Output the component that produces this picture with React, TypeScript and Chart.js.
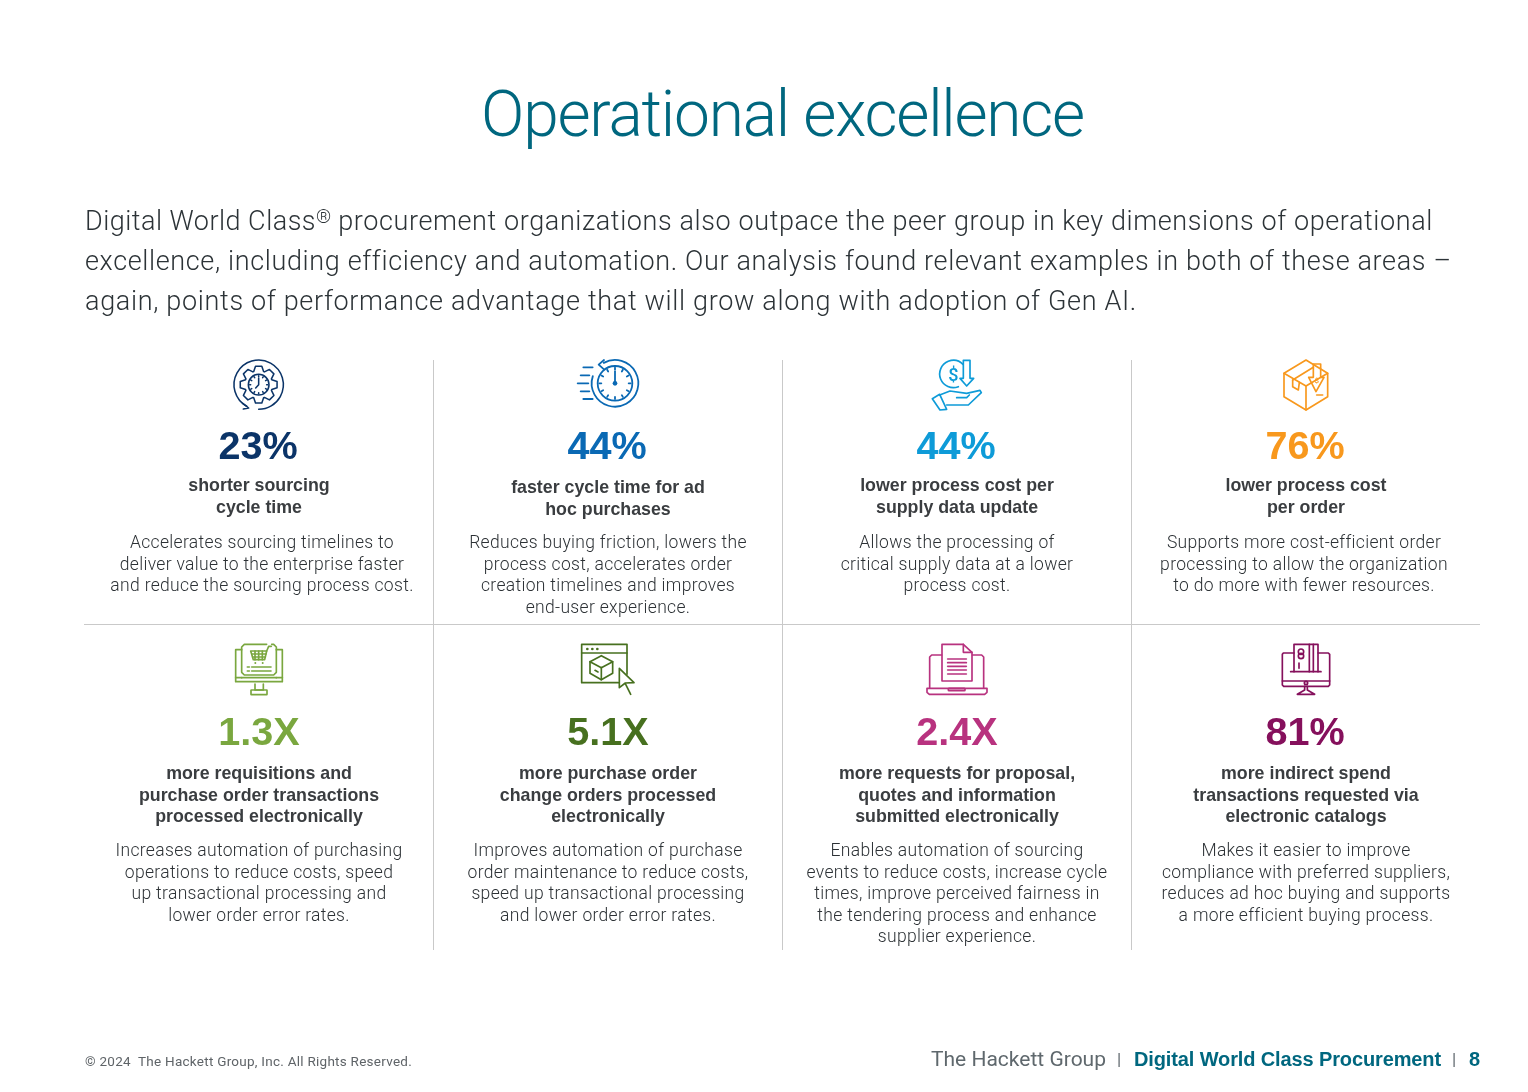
import React, { useEffect, useRef } from "react";
import { Chart, registerables } from "chart.js";

Chart.register(...registerables);

const pageTitle = "Operational excellence";
const introLines = [
  "Digital World Class® procurement organizations also outpace the peer group in key dimensions of operational",
  "excellence, including efficiency and automation. Our analysis found relevant examples in both of these areas –",
  "again, points of performance advantage that will grow along with adoption of Gen AI.",
];
const metricLabels = ["23%", "44%", "44%", "76%", "1.3X", "5.1X", "2.4X", "81%"];
const metricColors = ["#0b3468", "#0a69b4", "#0e9bd8", "#f8981d", "#7aa73f", "#47701f", "#b8327f", "#85105c"];
const headlines = [
  ["shorter sourcing", "cycle time"],
  ["faster cycle time for ad", "hoc purchases"],
  ["lower process cost per", "supply data update"],
  ["lower process cost", "per order"],
  ["more requisitions and", "purchase order transactions", "processed electronically"],
  ["more purchase order", "change orders processed", "electronically"],
  ["more requests for proposal,", "quotes and information", "submitted electronically"],
  ["more indirect spend", "transactions requested via", "electronic catalogs"],
];
const descriptions = [
  ["Accelerates sourcing timelines to", "deliver value to the enterprise faster", "and reduce the sourcing process cost."],
  ["Reduces buying friction, lowers the", "process cost, accelerates order", "creation timelines and improves", "end-user experience."],
  ["Allows the processing of", "critical supply data at a lower", "process cost."],
  ["Supports more cost-efficient order", "processing to allow the organization", "to do more with fewer resources."],
  ["Increases automation of purchasing", "operations to reduce costs, speed", "up transactional processing and", "lower order error rates."],
  ["Improves automation of purchase", "order maintenance to reduce costs,", "speed up transactional processing", "and lower order error rates."],
  ["Enables automation of sourcing", "events to reduce costs, increase cycle", "times, improve perceived fairness in", "the tendering process and enhance", "supplier experience."],
  ["Makes it easier to improve", "compliance with preferred suppliers,", "reduces ad hoc buying and supports", "a more efficient buying process."],
];
const footerLeft = "© 2024  The Hackett Group, Inc. All Rights Reserved.";
const footerBrand = "The Hackett Group";
const footerReport = "Digital World Class Procurement";
const footerPage = "8";

const LIGHT = "Roboto";
const BOLD = "'Liberation Sans'";
const columnCenters = [259, 608, 957, 1306];

type C = CanvasRenderingContext2D;

function txt(c: C, s: string, x: number, y: number, font: string, color: string, align: CanvasTextAlign = "center", fit?: number, spacing = 0) {
  c.font = font;
  c.fillStyle = color;
  c.textAlign = align;
  c.textBaseline = "alphabetic";
  (c as any).letterSpacing = `${spacing}px`;
  if (fit) {
    (c as any).letterSpacing = "0px";
    const w = c.measureText(s).width;
    (c as any).letterSpacing = `${(fit - w) / s.length}px`;
  }
  c.fillText(s, x, y);
  (c as any).letterSpacing = "0px";
}

function icon(c: C, ox: number, oy: number, color: string, lw: number, draw: (p: Path) => void) {
  c.save();
  c.translate(ox, oy);
  c.scale(1 / 3, 1 / 3);
  c.strokeStyle = color;
  c.fillStyle = color;
  c.lineWidth = lw;
  c.lineJoin = "round";
  c.lineCap = "round";
  const p = new Path(c);
  draw(p);
  c.restore();
}
class Path {
  c: C;
  constructor(c: C) { this.c = c; }
  poly(pts: number[], close = false) {
    const c = this.c;
    c.beginPath();
    c.moveTo(pts[0], pts[1]);
    for (let i = 2; i < pts.length; i += 2) c.lineTo(pts[i], pts[i + 1]);
    if (close) c.closePath();
    c.stroke();
  }
  circle(x: number, y: number, r: number, a0 = 0, a1 = Math.PI * 2) {
    const c = this.c;
    c.beginPath();
    c.arc(x, y, r, a0, a1);
    c.stroke();
  }
  dot(x: number, y: number, r: number) {
    const c = this.c;
    c.beginPath();
    c.arc(x, y, r, 0, Math.PI * 2);
    c.fill();
  }
  rect(x: number, y: number, w: number, h: number, r = 0) {
    const c = this.c;
    c.beginPath();
    c.roundRect(x, y, w, h, r);
    c.stroke();
  }
  ticks(x: number, y: number, r0: number, r1: number, n: number) {
    for (let i = 0; i < n; i++) {
      const a = (i / n) * Math.PI * 2;
      this.poly([x + r0 * Math.cos(a), y + r0 * Math.sin(a), x + r1 * Math.cos(a), y + r1 * Math.sin(a)]);
    }
  }
}

function drawIcons(c: C) {
  // gear clock
  icon(c, 200, 350, metricColors[0], 4.6, (p) => {
    const x = 176, y = 104;
    p.circle(x, y, 74, Math.PI * 0.66, Math.PI * 2.5);
    p.poly([128, 160, 146, 174, 130, 177]);
    const pts: number[] = [];
    for (let i = 0; i < 8; i++) {
      const a = (i / 8) * Math.PI * 2 - Math.PI / 2;
      const d = 0.17;
      pts.push(x + 42 * Math.cos(a - 0.36), y + 42 * Math.sin(a - 0.36));
      pts.push(x + 56 * Math.cos(a - d), y + 56 * Math.sin(a - d));
      pts.push(x + 56 * Math.cos(a + d), y + 56 * Math.sin(a + d));
      pts.push(x + 42 * Math.cos(a + 0.36), y + 42 * Math.sin(a + 0.36));
    }
    p.poly(pts, true);
    p.circle(x, y, 31);
    p.ticks(x, y, 24, 27, 12);
    p.poly([x, y - 20, x, y, x - 9, y + 10]);
  });
  // stopwatch
  icon(c, 200, 350, metricColors[1], 5.4, (p) => {
    const x = 1245, y = 100;
    p.circle(x, y, 70, Math.PI * 1.34, Math.PI * 3.1);
    p.circle(x, y, 52);
    p.ticks(x, y, 41, 47, 12);
    p.poly([x, y - 36, x, y]);
    p.dot(x, y, 7);
    p.poly([1212, 30, 1196, 44, 1212, 58]);
    p.poly([1150, 52, 1178, 52]);
    p.poly([1142, 76, 1168, 76]);
    p.poly([1133, 100, 1165, 100]);
    p.poly([1142, 124, 1168, 124]);
    p.poly([1150, 147, 1178, 147]);
  });
  // hand with coin
  icon(c, 900, 350, metricColors[2], 5, (p) => {
    p.circle(160, 72, 41, Math.PI * 0.38, Math.PI * 1.75);
    txt(c, "$", 160, 92, "500 54px Roboto", metricColors[2]);
    p.poly([190, 31, 210, 31, 210, 85, 221, 85, 200, 108, 180, 85, 190, 85], true);
    p.poly([97, 146, 119, 133, 140, 178, 120, 180], true);
    p.poly([119, 135, 150, 123, 200, 130, 240, 121, 244, 128, 205, 165, 140, 165]);
    p.poly([170, 143, 200, 143, 208, 135]);
  });
  // box
  icon(c, 900, 350, metricColors[3], 5, (p) => {
    p.poly([1218, 30, 1283, 70, 1283, 140, 1218, 180, 1152, 140, 1152, 70], true);
    p.poly([1152, 70, 1218, 108, 1218, 180]);
    p.poly([1218, 108, 1283, 70]);
    p.poly([1178, 90, 1240, 52]);
    p.poly([1178, 90, 1178, 110, 1195, 120, 1198, 98]);
    p.poly([1240, 42, 1262, 42, 1262, 82, 1272, 82, 1248, 125, 1226, 82, 1240, 82], true);
    p.poly([1250, 135, 1268, 135]);
    txt(c, "$", 1250, 98, "500 24px Roboto", metricColors[3]);
  });
  // monitor with cart
  icon(c, 200, 635, metricColors[4], 5, (p) => {
    p.poly([200, 28, 133, 28, 125, 36, 125, 112, 133, 120, 221, 120, 229, 112, 229, 36, 221, 28, 215, 28]);
    p.poly([125, 44, 107, 44, 107, 140, 247, 140, 247, 44, 229, 44]);
    p.poly([107, 128, 125, 128]);
    p.poly([229, 128, 247, 128]);
    p.poly([125, 128, 229, 128]);
    p.poly([165, 147, 165, 165, 190, 165, 190, 147]);
    p.rect(153, 165, 48, 14, 1);
    p.poly([152, 48, 200, 48, 194, 74, 160, 74, 152, 48]);
    p.poly([156, 57, 198, 57]);
    p.poly([158, 66, 196, 66]);
    for (const x of [165, 176, 187]) p.poly([x, 48, x, 74]);
    p.poly([200, 48, 206, 34, 214, 34]);
    p.dot(166, 84, 3);
    p.dot(188, 84, 3);
    p.poly([142, 96, 148, 96]);
    p.poly([155, 96, 213, 96]);
    p.poly([142, 108, 148, 108]);
    p.poly([155, 108, 213, 108]);
  });
  // browser with package
  icon(c, 200, 635, metricColors[5], 5, (p) => {
    p.poly([1255, 143, 1145, 143, 1145, 28, 1281, 28, 1281, 118]);
    p.poly([1145, 54, 1281, 54]);
    p.dot(1162, 42, 4);
    p.dot(1177, 42, 4);
    p.dot(1192, 42, 4);
    p.poly([1204, 62, 1238, 80, 1238, 115, 1204, 134, 1170, 115, 1170, 80], true);
    p.poly([1170, 80, 1204, 98, 1238, 80]);
    p.poly([1204, 98, 1204, 134]);
    p.poly([1185, 106, 1194, 111]);
    p.poly([1258, 100, 1302, 143, 1276, 144, 1258, 158], true);
    p.poly([1276, 146, 1292, 178]);
  });
  // laptop with document
  icon(c, 900, 635, metricColors[6], 5, (p) => {
    p.poly([125, 60, 95, 60, 89, 66, 89, 158]);
    p.poly([217, 60, 245, 60, 251, 66, 251, 158]);
    p.poly([81, 160, 261, 160, 261, 172, 254, 178, 88, 178, 81, 172], true);
    p.rect(145, 160, 50, 7, 2);
    p.poly([190, 28, 126, 28, 126, 138, 216, 138, 216, 52, 190, 28]);
    p.poly([190, 28, 190, 52, 216, 52]);
    for (const y of [72, 83, 94, 105, 117]) p.poly([143, y, 199, y]);
  });
  // monitor with card
  icon(c, 900, 635, metricColors[7], 5, (p) => {
    p.poly([1182, 54, 1150, 54, 1147, 58, 1147, 150, 1151, 154, 1285, 154, 1289, 150, 1289, 58, 1285, 54, 1254, 54]);
    p.poly([1147, 138, 1289, 138]);
    p.poly([1172, 110, 1263, 110]);
    p.poly([1182, 110, 1182, 28, 1254, 28, 1254, 110]);
    p.poly([1228, 28, 1228, 110]);
    p.poly([1240, 28, 1240, 110]);
    p.circle(1203, 50, 8);
    p.circle(1203, 63, 8);
    p.poly([1197, 84, 1197, 100]);
    p.circle(1218, 144, 5);
    p.poly([1214, 154, 1214, 165, 1192, 178, 1244, 178, 1222, 165, 1222, 154]);
  });
}

const pagePlugin = {
  id: "page",
  afterDatasetsDraw(chart: any) {
    const c: C = chart.ctx;
    const X = chart.scales.x;
    const Y = chart.scales.y;
    c.save();
    const fx = (v: number) => X.getPixelForValue(v);
    const fy = (v: number) => Y.getPixelForValue(v);
    txt(c, pageTitle, fx(782.5), fy(136), `300 64px ${LIGHT}`, "#00677f", "center", 603);

    const introFont = `300 27px ${LIGHT}`;
    const ink = "#2c3337";
    const [before, after] = introLines[0].split("®");
    txt(c, before, fx(85), fy(230), introFont, ink, "left", 231);
    txt(c, "®", fx(316), fy(223), `300 19px ${LIGHT}`, ink, "left");
    txt(c, after, fx(331), fy(230), introFont, ink, "left", 1102);
    txt(c, introLines[1], fx(85), fy(270), introFont, ink, "left", 1365);
    txt(c, introLines[2], fx(85), fy(310), introFont, ink, "left", 1052);

    const headTop = [491, 493, 491, 491, 779, 779, 779, 779];
    const descShift = [3, 0, 0, -2, 0, 0, 0, 0];
    metricLabels.forEach((m, i) => {
      const cx = columnCenters[i % 4];
      const row = i < 4 ? 0 : 1;
      txt(c, m, fx(m.endsWith("X") ? cx : cx - 1), fy(row === 0 ? 459 : 744.5), `700 39.6px ${BOLD}`, metricColors[i]);
      headlines[i].forEach((s, k) => txt(c, s, fx(cx), fy(headTop[i] + k * 21.5), `700 17.8px ${BOLD}`, "#3a3d40"));
      const d0 = row === 0 ? 548 : 856;
      descriptions[i].forEach((s, k) => txt(c, s, fx(cx + descShift[i]), fy(d0 + k * 21.6), `300 17.5px ${LIGHT}`, "#2c3135", "center", undefined, 0.32));
    });

    txt(c, footerLeft, fx(85), fy(1066), `400 13.5px ${LIGHT}`, "#5f6468", "left", 327);
    txt(c, footerBrand, fx(931), fy(1066), `400 21px ${LIGHT}`, "#5f686d", "left", 175);
    txt(c, "|", fx(1119), fy(1065), `400 17px ${LIGHT}`, "#5f686d");
    txt(c, footerReport, fx(1134), fy(1066), `700 20px ${BOLD}`, "#00677f", "left", 307);
    txt(c, "|", fx(1454), fy(1065), `400 17px ${LIGHT}`, "#5f686d");
    txt(c, footerPage, fx(1469), fy(1066), `700 20px ${BOLD}`, "#00677f", "left");
    drawIcons(c);
    c.restore();
  },
};

export default function App() {
  const ref = useRef<HTMLCanvasElement>(null);
  useEffect(() => {
    const rule = (pts: number[][]) => ({
      type: "line" as const,
      data: pts.map(([x, y]) => ({ x, y })),
      borderColor: "#c9c9c9",
      borderWidth: 1,
      pointRadius: 0,
      fill: false,
    });
    const chart = new Chart(ref.current!, {
      type: "scatter",
      data: {
        datasets: [
          rule([[433.5, 360], [433.5, 950]]),
          rule([[782.5, 360], [782.5, 950]]),
          rule([[1131.5, 360], [1131.5, 950]]),
          rule([[84, 624.5], [1480, 624.5]]),
        ],
      },
      options: {
        responsive: false,
        animation: false,
        layout: { padding: 0 },
        plugins: { legend: { display: false }, tooltip: { enabled: false } },
        scales: {
          x: { type: "linear", min: 0, max: 1528, display: false },
          y: { type: "linear", min: 0, max: 1092, reverse: true, display: false },
        },
      },
      plugins: [pagePlugin],
    } as any);
    return () => chart.destroy();
  }, []);
  return (
    <div style={{ position: "absolute", left: 0, top: 0, width: 1528, height: 1092, background: "#fff" }}>
      <canvas ref={ref} width={1528} height={1092} style={{ display: "block" }} />
    </div>
  );
}
